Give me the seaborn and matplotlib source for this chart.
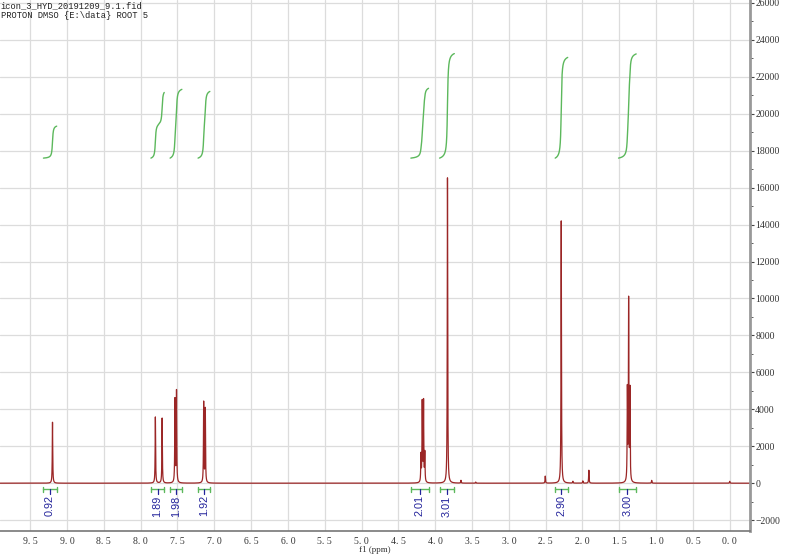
#espectro 1H RMN (DMSO) con integrales, dibujado con seaborn
import numpy as np
import pandas as pd
import matplotlib
matplotlib.use("Agg")
import matplotlib.pyplot as plt
import seaborn as sns
from matplotlib.ticker import MultipleLocator

#picos: posicion (ppm) y altura
peak_ppm = [9.197, 7.800, 7.708, 7.534, 7.513, 7.144, 7.122,
            4.193, 4.176, 4.158, 4.141, 3.833, 3.65, 3.45,
            2.505, 2.288, 2.13, 1.995, 1.913, 1.390, 1.373, 1.355, 1.06, 0.0]
peak_height = [3300, 3580, 3520, 4500, 4950, 4350, 4000,
               1450, 4300, 4350, 1550, 16530, 150, 60,
               380, 14200, 100, 120, 700, 4900, 9750, 4900, 150, 100]

#integrales: desde, hasta, valor
int_from = [9.32, 7.86, 7.60, 7.22, 4.33, 3.94, 2.37, 1.51]
int_to = [9.14, 7.68, 7.44, 7.06, 4.09, 3.74, 2.20, 1.27]
int_value = [0.92, 1.89, 1.98, 1.92, 2.01, 3.01, 2.90, 3.00]

header = ["icon_3_HYD_20191209_9.1.fid", "PROTON DMSO {E:\\data} ROOT 5"]

#construimos el espectro con formas lorentzianas
ppm = np.linspace(9.95, -0.3, 41001)
gamma = 0.0035
gamma_int = 0.008

def lorentz(x, centers, heights, g):
    y = np.zeros_like(x)
    for c, h in zip(centers, heights):
        y += h * g**2 / ((x - c)**2 + g**2)
    return y

intensity = lorentz(ppm, peak_ppm, peak_height, gamma)
df = pd.DataFrame({"ppm": ppm, "intensity": intensity})

sns.set_style("whitegrid")
plt.rcParams["font.family"] = ["Liberation Serif", "DejaVu Sans"]

fig = plt.figure(figsize=(8, 5.58), dpi=100)
ax = fig.add_axes([0.0, 0.048, 0.937, 0.952])

sns.lineplot(data=df, x="ppm", y="intensity", ax=ax, color="#9b2626",
             linewidth=0.9, estimator=None, sort=False)

#curvas de integral (acumulado del espectro ensanchado)
base = 17600
scale = 1880
broad = lorentz(ppm, peak_ppm, peak_height, gamma_int)
green = "#5cb85c"
blue = "#23239b"
for a, b, v in zip(int_from, int_to, int_value):
    m = (ppm <= a) & (ppm >= b)
    cs = np.cumsum(broad[m])
    cs = (cs - cs[0]) / (cs[-1] - cs[0])
    sns.lineplot(x=ppm[m], y=base + scale * v * cs, ax=ax, color=green,
                 linewidth=1.0, estimator=None, sort=False)
    #barra de integracion debajo
    ax.plot([a, b], [-330, -330], color=green, lw=1.0)
    ax.plot([a, a], [-480, -180], color=green, lw=1.0)
    ax.plot([b, b], [-480, -180], color=green, lw=1.0)
    mid = (a + b) / 2
    ax.plot([mid, mid], [-330, -560], color=blue, lw=0.9)
    ax.text(mid, -1230, f"{v:.2f}", rotation=90, ha="center", va="center",
            color=blue, fontsize=7.8, family=["Liberation Sans", "DejaVu Sans"])

ax.set_xlim(9.91, -0.27)
ax.set_ylim(-2600, 26160)
ax.xaxis.set_major_locator(MultipleLocator(0.5))
ax.xaxis.set_minor_locator(MultipleLocator(0.1))
ax.yaxis.set_major_locator(MultipleLocator(2000))
ax.yaxis.set_minor_locator(MultipleLocator(1000))
ax.xaxis.set_major_formatter(plt.FuncFormatter(lambda v, p: f"{v:.1f}".replace(".", ". ")))
ax.yaxis.tick_right()
ax.yaxis.set_label_position("right")
ax.tick_params(axis="both", which="both", direction="out", labelsize=7,
               colors="#444444", labelcolor="#333333")
ax.tick_params(axis="both", which="major", length=3, width=0.8)
ax.tick_params(axis="both", which="minor", length=2, width=0.6)
ax.tick_params(axis="x", pad=1.5)
ax.tick_params(axis="y", pad=1)
ax.grid(True, which="major", color="#dcdcdc", linewidth=0.9)
ax.set_axisbelow(True)

for s in ["top", "left"]:
    ax.spines[s].set_visible(False)
ax.spines["right"].set_color("#999999")
ax.spines["right"].set_linewidth(2)
ax.spines["bottom"].set_color("#777777")
ax.spines["bottom"].set_linewidth(1.2)

ax.set_xlabel("f1 (ppm)", fontsize=6.5, labelpad=0, color="#333333")
ax.set_ylabel("")

for i, line in enumerate(header):
    fig.text(0.001, 0.997 - i * 0.017, line, ha="left", va="top",
             fontsize=6.3, family=["Liberation Mono", "DejaVu Sans Mono"],
             color="#222222")

fig.savefig("out.png", dpi=100)
